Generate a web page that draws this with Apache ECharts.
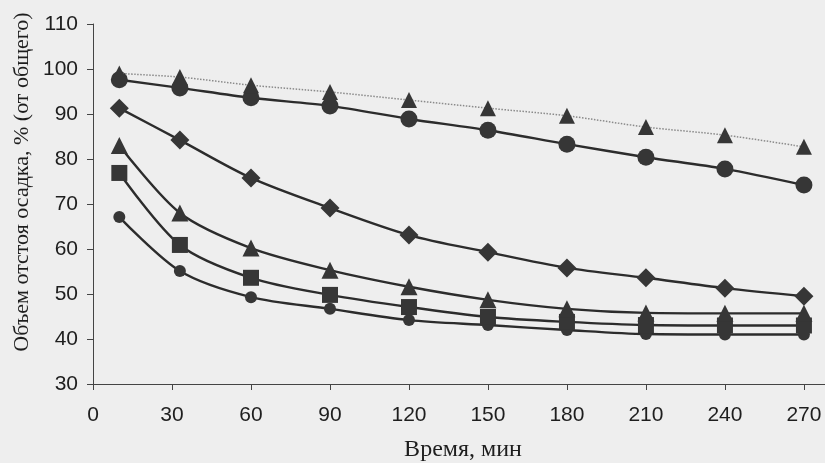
<!DOCTYPE html>
<html><head><meta charset="utf-8">
<script src="https://cdn.jsdelivr.net/npm/echarts@6/dist/echarts.min.js"></script>
<style>html,body{margin:0;padding:0;background:#eeeeee}#c{width:825px;height:463px}</style>
</head><body><div id="c"></div>
<script>
const times = [10, 33, 60, 90, 120, 150, 180, 210, 240, 270];
const triangleTop = [99.0, 98.2, 96.4, 94.9, 93.1, 91.3, 89.6, 87.1, 85.3, 82.7];
const circleTop = [97.6, 95.8, 93.6, 91.8, 88.9, 86.4, 83.3, 80.4, 77.8, 74.2];
const diamond = [91.3, 84.2, 75.8, 69.1, 63.1, 59.3, 55.8, 53.6, 51.3, 49.5];
const triangleLow = [83.0, 68.0, 60.2, 55.3, 51.6, 48.7, 46.7, 45.8, 45.7, 45.7];
const square = [76.9, 60.9, 53.6, 49.8, 47.1, 44.9, 43.8, 43.1, 43.0, 43.0];
const circleSmall = [67.1, 55.1, 49.3, 46.7, 44.2, 43.1, 42.0, 41.1, 41.0, 41.0];
const xTicks = [0, 30, 60, 90, 120, 150, 180, 210, 240, 270];
const yTitle = 'Объем отстоя осадка, % (от общего)';
const xTitle = 'Время, мин';

const pair = arr => times.map((t, i) => [t, arr[i]]);
const dark = '#2c2c2c';
function mk(name, arr, symbol, size, lineStyle, z) {
  return {
    name, type: 'line', data: pair(arr), symbol, symbolSize: size,
    smooth: 0.3, z,
    lineStyle: lineStyle || { color: dark, width: 2.4 },
    itemStyle: { color: '#363636' },
    emphasis: { disabled: true }, animation: false
  };
}
const chart = echarts.init(document.getElementById('c'), null, { renderer: 'canvas' });
chart.setOption({
  backgroundColor: '#eeeeee',
  animation: false,
  grid: { left: 93, right: 0, top: 24, bottom: 79 },
  xAxis: {
    type: 'value', min: 0, max: 278,
    axisLine: { lineStyle: { color: '#444', width: 1 } },
    axisTick: { customValues: xTicks, length: 6, lineStyle: { color: '#444' } },
    axisLabel: { customValues: xTicks, fontFamily: 'Liberation Sans, Arial', fontSize: 21, color: '#1e1e1e', margin: 21 },
    splitLine: { show: false }
  },
  yAxis: {
    type: 'value', min: 30, max: 110, interval: 10,
    axisLine: { show: true, lineStyle: { color: '#444', width: 1 } },
    axisTick: { show: true, length: 6, lineStyle: { color: '#444' } },
    axisLabel: { fontFamily: 'Liberation Sans, Arial', fontSize: 21, color: '#1e1e1e', margin: 15 },
    splitLine: { show: false }
  },
  graphic: [
    { type: 'text', x: 22, y: 182, rotation: Math.PI / 2,
      style: { text: yTitle, font: '22px "Liberation Serif", serif', fill: '#1e1e1e', align: 'center', verticalAlign: 'middle' } },
    { type: 'text', x: 463, y: 450,
      style: { text: xTitle, font: '24px "Liberation Serif", serif', fill: '#1e1e1e', align: 'center', verticalAlign: 'middle' } }
  ],
  series: [
    mk('s6', circleSmall, 'circle', 12, null, 2),
    mk('s5', square, 'rect', 16, null, 3),
    mk('s4', triangleLow, 'triangle', 17, null, 4),
    mk('s3', diamond, 'diamond', 19, null, 5),
    mk('s2', circleTop, 'circle', 17, null, 6),
    mk('s1', triangleTop, 'triangle', 16, { color: '#8a8a8a', width: 1.5, type: 'dotted' }, 7)
  ]
});
</script></body></html>
